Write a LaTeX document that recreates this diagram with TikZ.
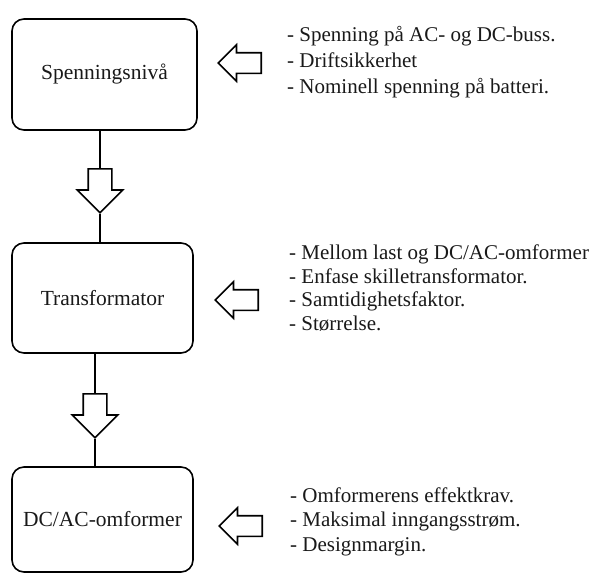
\documentclass[tikz,border=0pt]{standalone}
\usepackage{fontspec}
\setmainfont{Liberation Serif}
\usepackage{xcolor}
\usetikzlibrary{shapes.arrows,positioning}

\begin{document}
\begin{tikzpicture}[
  x=1pt, y=-1pt,
  font=\fontsize{21.5}{25}\selectfont,
  every node/.style={text=black!90},
  block/.style={draw, line width=1.6pt, rounded corners=12pt, align=center, inner sep=0pt},
  hollow/.style={single arrow, draw, line width=1.6pt, single arrow head indent=0pt},
  flowarrow/.style={hollow, shape border rotate=270, anchor=tail, inner sep=11pt,
                    minimum height=44pt, minimum width=44pt, single arrow head extend=11pt},
  inputarrow/.style={hollow, shape border rotate=180, anchor=tail, inner sep=9.5pt,
                     minimum height=43pt, minimum width=35pt, single arrow head extend=8pt},
  note/.style={anchor=west, align=left, inner sep=0pt},
  link/.style={line width=1.6pt}
]
\useasboundingbox (0,0) rectangle (596,574);

% ---------- main chain ----------
\node[block, minimum width=185pt, minimum height=111pt] (spenning) at (104.5,74.5) {Spenningsnivå};
\node[block, minimum width=181pt, minimum height=110pt] (trafo) at (102.5,298) {Transformator};
\node[block, minimum width=181pt, minimum height=105pt] (omformer) at (102.5,519.5) {DC/AC-omformer};

\node[flowarrow] (pil1) at (100,168) {};
\node[flowarrow] (pil2) at (95,393) {};

\draw[link] (pil1.tail |- spenning.south) -- (pil1.tail);
\draw[link] (pil1.tip) -- (pil1.tip |- trafo.north);
\draw[link] (pil2.tail |- trafo.south) -- (pil2.tail);
\draw[link] (pil2.tip) -- (pil2.tip |- omformer.north);

% ---------- inputs on the right ----------
\node[inputarrow] (inn1) at (262,63) {};
\node[inputarrow] (inn2) at (259,300) {};
\node[inputarrow] (inn3) at (263,526) {};

\node[note, font=\fontsize{21}{26}\selectfont] (krav1) at (287,62)
  {- Spenning på AC- og DC-buss.\\- Driftsikkerhet\\- Nominell spenning på batteri.};
\node[note, font=\fontsize{21}{23.5}\selectfont] (krav2) at (289,288)
  {- Mellom last og DC/AC-omformer\\- Enfase skilletransformator.\\- Samtidighetsfaktor.\\- Størrelse.};
\node[note, font=\fontsize{21}{24.5}\selectfont] (krav3) at (290,521.5)
  {- Omformerens effektkrav.\\- Maksimal inngangsstrøm.\\- Designmargin.};

\end{tikzpicture}
\end{document}
